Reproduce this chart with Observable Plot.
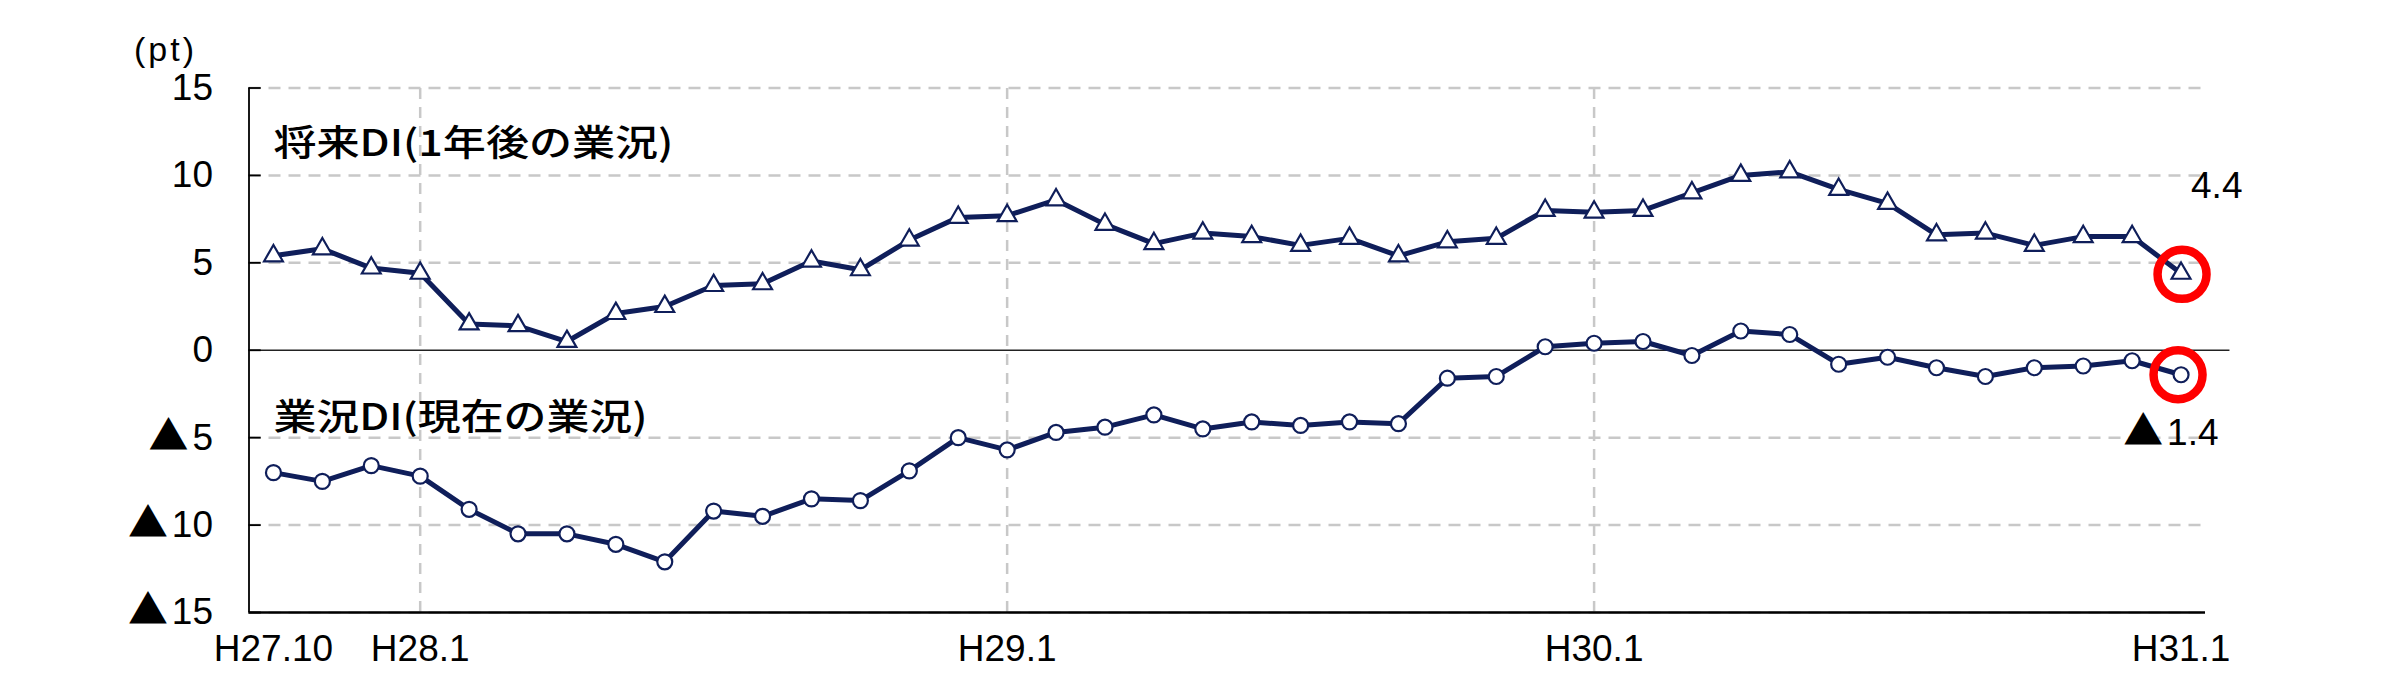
<!DOCTYPE html>
<html><head><meta charset="utf-8">
<script src="https://cdn.jsdelivr.net/npm/d3@7"></script>
<script src="https://cdn.jsdelivr.net/npm/@observablehq/plot@0.6"></script>
<style>
html,body{margin:0;padding:0;background:#fff;}
</style></head><body><div id="chart"></div>
<script>
// Categories (monthly, Japanese era notation)
const months = [
  "H27.10","H27.11","H27.12",
  "H28.1","H28.2","H28.3","H28.4","H28.5","H28.6","H28.7","H28.8","H28.9","H28.10","H28.11","H28.12",
  "H29.1","H29.2","H29.3","H29.4","H29.5","H29.6","H29.7","H29.8","H29.9","H29.10","H29.11","H29.12",
  "H30.1","H30.2","H30.3","H30.4","H30.5","H30.6","H30.7","H30.8","H30.9","H30.10","H30.11","H30.12",
  "H31.1"
];
// Series values (pt)
const futureDI = [5.4,5.8,4.7,4.4,1.5,1.4,0.5,2.1,2.5,3.7,3.8,5.1,4.6,6.3,7.6,7.7,8.6,7.2,6.1,6.7,6.5,6.0,6.4,5.4,6.2,6.4,8.0,7.9,8.0,9.0,10.0,10.2,9.2,8.4,6.6,6.7,6.0,6.5,6.5,4.4];
const currentDI = [-7.0,-7.5,-6.6,-7.2,-9.1,-10.5,-10.5,-11.1,-12.1,-9.2,-9.5,-8.5,-8.6,-6.9,-5.0,-5.7,-4.7,-4.4,-3.7,-4.5,-4.1,-4.3,-4.1,-4.2,-1.6,-1.5,0.2,0.4,0.5,-0.3,1.1,0.9,-0.8,-0.4,-1.0,-1.5,-1.0,-0.9,-0.6,-1.4];
const seriesNames = ["将来DI(1年後の業況)", "業況DI(現在の業況)"];
// Tick labels
const xTickLabels = ["H27.10","H28.1","H29.1","H30.1","H31.1"];
const xGridLabels = ["H28.1","H29.1","H30.1"];
const yTicks = [15,10,5,0,-5,-10,-15];
const unitLabel = "(pt)";

const data = months.map((m, i) => ({i, m, future: futureDI[i], current: currentDI[i]}));
const idx = m => months.indexOf(m);
const last = months.length - 1;
const fmt = v => v < 0 ? "▲" + Math.abs(v) : String(v);
const navy = "#0f1e5a";
const grid = "#c8c8c8";
const latin = '"Liberation Sans", Arial, "Noto Sans CJK JP", sans-serif';
const cjk = '"Noto Sans CJK JP", "Noto Sans CJK SC", sans-serif';

const plot = Plot.plot({
  width: 2392, height: 700,
  marginLeft: 248.5, marginRight: 187, marginTop: 87.5, marginBottom: 88,
  style: {fontFamily: latin, fontSize: "37px", background: "#fff", color: "#000", overflow: "visible"},
  x: {domain: [-0.5, months.length - 0.5]},
  y: {domain: [-15, 15]},
  marks: [
    Plot.ruleY(yTicks.filter(d => d !== 0), {stroke: grid, strokeWidth: 2.5, strokeDasharray: "12,8"}),
    Plot.ruleX(xGridLabels.map(idx), {y1: -15, y2: 15, stroke: grid, strokeWidth: 2.5, strokeDasharray: "11,8"}),
    Plot.ruleY([0], {x1: -0.5, x2: months.length, stroke: "#222", strokeWidth: 1.7}),
    Plot.ruleY([-15], {stroke: "#000", strokeWidth: 2.6}),
    Plot.ruleX([-0.5], {y1: -15, y2: 15, stroke: "#000", strokeWidth: 1.8}),
    Plot.ruleY(yTicks, {x1: -0.5, x2: -0.25, stroke: "#000", strokeWidth: 1.8}),
    Plot.axisY({ticks: yTicks, tickSize: 0, tickPadding: 36, tickFormat: fmt, fontSize: 37, label: null}),
    Plot.axisX({ticks: xTickLabels.map(idx), tickFormat: i => months[i], tickSize: 0, tickPadding: 22, fontSize: 37, label: null}),
    Plot.text([unitLabel], {frameAnchor: "top-left", text: d => d, dx: -83.5, dy: -37.5, fontSize: 34, textAnchor: "middle", lineAnchor: "middle"}),
    Plot.line(data, {x: "i", y: "future", stroke: navy, strokeWidth: 5}),
    Plot.dot(data, {x: "i", y: "future", symbol: "triangle", r: 7, fill: "#fff", stroke: navy, strokeWidth: 2.2}),
    Plot.line(data, {x: "i", y: "current", stroke: navy, strokeWidth: 5}),
    Plot.dot(data, {x: "i", y: "current", symbol: "circle", r: 7.5, fill: "#fff", stroke: navy, strokeWidth: 2.2}),
    Plot.dot([last], {x: d => d, y: d => futureDI[d], r: 24.5, fill: "none", stroke: "#ff0000", strokeWidth: 8.5, dx: 1, dy: 1}),
    Plot.dot([last], {x: d => d, y: d => currentDI[d], r: 24.5, fill: "none", stroke: "#ff0000", strokeWidth: 8.5, dx: -3}),
    Plot.text([last], {x: d => d, y: d => futureDI[d], text: d => fmt(futureDI[d]), textAnchor: "start", dx: 10, dy: -87, fontSize: 37}),
    Plot.text([last], {x: d => d, y: d => currentDI[d], text: d => fmt(currentDI[d]), textAnchor: "end", dx: 37.5, dy: 58.5, fontSize: 37}),
    Plot.text([seriesNames[0]], {x: 0, y: 11.76, text: d => d, textAnchor: "start", fontSize: 36, fontWeight: 500, fontFamily: cjk}),
    Plot.text([seriesNames[1]], {x: 0, y: -3.89, text: d => d, textAnchor: "start", fontSize: 36, fontWeight: 500, fontFamily: cjk})
  ]
});
document.getElementById("chart").appendChild(plot);
const widths = {[seriesNames[0]]: 400, [seriesNames[1]]: 374};
d3.select(plot).selectAll("text").each(function() {
  const t = this.textContent;
  const w = widths[t];
  if (w) { this.setAttribute("textLength", w); this.setAttribute("lengthAdjust", "spacingAndGlyphs"); return; }
  if (t === unitLabel) { this.setAttribute("letter-spacing", "3"); return; }
  if (t.startsWith("▲") && !this.querySelector("tspan")) {
    this.textContent = "";
    const ns = "http://www.w3.org/2000/svg";
    const tri = document.createElementNS(ns, "tspan");
    tri.setAttribute("font-family", cjk);
    tri.setAttribute("font-size", "1.08em");
    tri.textContent = "▲";
    const rest = document.createElementNS(ns, "tspan");
    rest.setAttribute("dx", "4");
    rest.textContent = t.slice(1);
    this.appendChild(tri);
    this.appendChild(rest);
  }
});
</script></body></html>
